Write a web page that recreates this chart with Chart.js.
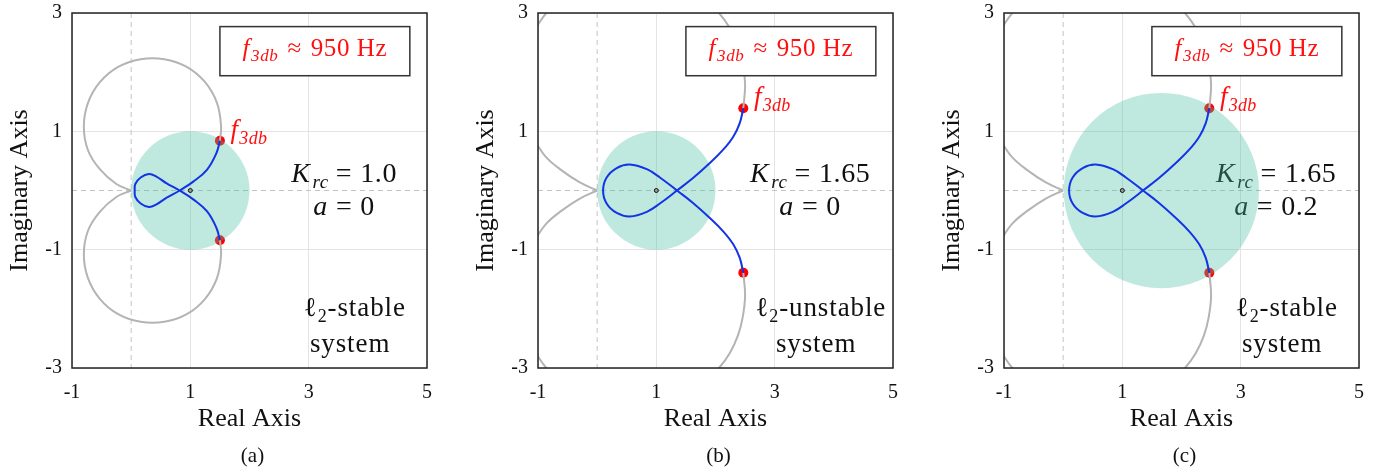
<!DOCTYPE html>
<html>
<head>
<meta charset="utf-8">
<script src="https://cdn.jsdelivr.net/npm/chart.js@4.4.1/dist/chart.umd.min.js"></script>
<style>
  html, body { margin: 0; padding: 0; background: #fff; overflow: hidden; }
  #wrap { position: relative; width: 1386px; height: 472px; }
  canvas { position: absolute; top: 0; }
</style>
</head>
<body>
<div id="wrap">
  <canvas id="chartA" width="460" height="472" style="left:0px"></canvas>
  <canvas id="chartB" width="460" height="472" style="left:466px"></canvas>
  <canvas id="chartC" width="460" height="472" style="left:932px"></canvas>
</div>
<script>
// axis ticks
const xTicks = [-1, 1, 3, 5];
const yTicks = [-3, -1, 1, 3];

// panel labels
const captions = ['(a)', '(b)', '(c)'];
const gainLabels = ['1.0', '1.65', '1.65'];
const aLabels = ['0', '0', '0.2'];
const stabilityLabels = ['stable', 'unstable', 'stable'];

// marker at (1, 0)
const centreMark = [[1, 0]];

// (a) K_rc = 1.0, a = 0
const blueA = [[1.50,0.84],[1.44,0.63],[1.28,0.35],[1.05,0.15],[0.82,0],[0.60,-0.12],[0.42,-0.24],[0.30,-0.28],
  [0.16,-0.22],[0.07,-0.11],[0.06,0],[0.07,0.11],[0.16,0.22],[0.30,0.28],[0.42,0.24],[0.60,0.12],[0.82,0],
  [1.05,-0.15],[1.28,-0.35],[1.44,-0.63],[1.50,-0.84]];
const grayAUpper = [[1.50,0.84],[1.52,1.08],[1.45,1.48],[1.25,1.83],[0.94,2.09],[0.56,2.22],[0.16,2.22],
  [-0.22,2.09],[-0.53,1.83],[-0.73,1.48],[-0.80,1.08],[-0.73,0.68],[-0.53,0.36],[-0.25,0.11],[0,0]];
const grayALower = [[1.50,-0.84],[1.52,-1.08],[1.45,-1.48],[1.25,-1.83],[0.94,-2.09],[0.56,-2.22],[0.16,-2.22],
  [-0.22,-2.09],[-0.53,-1.83],[-0.73,-1.48],[-0.80,-1.08],[-0.73,-0.68],[-0.53,-0.36],[-0.25,-0.11],[0,0]];
const redA = [[1.50,0.84],[1.50,-0.84]];
const discA = [1.0, 0, 1.0];   // centre x, centre y, radius

// (b) and (c) K_rc = 1.65 (same locus in both)
const blueBC = [[2.47,1.39],[2.41,1.14],[2.30,0.91],[2.13,0.69],[1.90,0.46],[1.62,0.21],[1.35,0],[1.06,-0.22],
  [0.84,-0.36],[0.55,-0.44],[0.33,-0.38],[0.16,-0.22],[0.10,0],[0.16,0.22],[0.33,0.38],[0.55,0.44],[0.84,0.36],
  [1.06,0.22],[1.35,0],[1.62,-0.21],[1.90,-0.46],[2.13,-0.69],[2.30,-0.91],[2.41,-1.14],[2.47,-1.39]];
const grayBCUpRight = [[2.47,1.39],[2.50,1.78],[2.46,2.14],[2.38,2.45],[2.24,2.75],[2.06,3.0],[1.82,3.25]];
const grayBCUpCorner = [[-0.62,3.24],[-0.86,3.0],[-1.05,2.73]];
const grayBCUpLeft = [[-1.05,0.83],[-0.86,0.56],[-0.60,0.34],[-0.30,0.14],[0,0]];
const grayBCLowRight = [[2.47,-1.39],[2.50,-1.78],[2.46,-2.14],[2.38,-2.45],[2.24,-2.75],[2.06,-3.0],[1.82,-3.25]];
const grayBCLowCorner = [[-0.62,-3.24],[-0.86,-3.0],[-1.05,-2.73]];
const grayBCLowLeft = [[-1.05,-0.83],[-0.86,-0.56],[-0.60,-0.34],[-0.30,-0.14],[0,0]];
const redBC = [[2.47,1.39],[2.47,-1.39]];
const discB = [1.0, 0, 1.0];
const discC = [1.66, 0, 1.65];

const SERIF = "'Liberation Serif', 'Times New Roman', serif";
const tickFont = { family: SERIF, size: 20 };
const titleFont = { family: SERIF, size: 26 };

const pts = arr => arr.map(p => ({ x: p[0], y: p[1] }));

// draw text parts [text, size, italic, dy, gapAfter] centred (or left aligned) at x, baseline y
function rich(ctx, parts, x, y, align, spacing) {
  ctx.letterSpacing = (spacing || 0) + 'px';
  let w = 0;
  parts.forEach(p => {
    ctx.font = (p[2] ? 'italic ' : '') + p[1] + 'px ' + SERIF;
    w += ctx.measureText(p[0]).width + (p[4] || 0);
  });
  let cx = align === 'left' ? x : x - w / 2;
  ctx.textAlign = 'left';
  ctx.textBaseline = 'alphabetic';
  parts.forEach(p => {
    ctx.font = (p[2] ? 'italic ' : '') + p[1] + 'px ' + SERIF;
    ctx.fillText(p[0], cx, y + (p[3] || 0));
    cx += ctx.measureText(p[0]).width + (p[4] || 0);
  });
  ctx.letterSpacing = '0px';
}

const annot = {
  id: 'annot',
  beforeDatasetsDraw(chart, args, o) {
    const { ctx, chartArea: a, scales: { x, y } } = chart;
    ctx.save();
    ctx.beginPath();
    ctx.rect(a.left, a.top, a.right - a.left, a.bottom - a.top);
    ctx.clip();
    ctx.strokeStyle = '#c4c4c4';
    ctx.lineWidth = 1;
    ctx.setLineDash([5, 4]);
    ctx.beginPath();
    ctx.moveTo(x.getPixelForValue(0), a.top);
    ctx.lineTo(x.getPixelForValue(0), a.bottom);
    ctx.moveTo(a.left, y.getPixelForValue(0));
    ctx.lineTo(a.right, y.getPixelForValue(0));
    ctx.stroke();
    ctx.setLineDash([]);
    ctx.fillStyle = '#111';
    rich(ctx, [['K', 28, true, 0, 2], ['rc', 19, true, 6, 7], ['=', 28, false, 0, 8], [o.gain, 28, false]],
      x.getPixelForValue(3.6), y.getPixelForValue(0.15), 'center', 0.6);
    rich(ctx, [['a', 28, true, 0, 8], ['=', 28, false, 0, 8], [o.a, 28, false]],
      x.getPixelForValue(3.6), y.getPixelForValue(-0.41), 'center', 0.6);
    ctx.restore();
  },
  afterDatasetsDraw(chart, args, o) {
    const { ctx, chartArea: a, scales: { x, y } } = chart;
    ctx.save();
    // frame
    ctx.strokeStyle = '#222';
    ctx.lineWidth = 1.5;
    ctx.strokeRect(a.left, a.top, a.right - a.left, a.bottom - a.top);
    // f3db box
    const bl = x.getPixelForValue(1.5), br = x.getPixelForValue(4.71);
    const bt = y.getPixelForValue(2.77), bb = y.getPixelForValue(1.94);
    ctx.fillStyle = '#fff';
    ctx.fillRect(bl, bt, br - bl, bb - bt);
    ctx.strokeStyle = '#333';
    ctx.strokeRect(bl, bt, br - bl, bb - bt);
    ctx.fillStyle = '#ff1010';
    rich(ctx, [['f', 25, true, 0, 1], ['3db', 17, true, 5, 9], ['\u2248', 25, false, 0, 9], ['950 Hz', 25, false]],
      (bl + br) / 2, y.getPixelForValue(2.27), 'center', 0.6);
    // f3db label next to the upper red point
    rich(ctx, [['f', 27, true, 0, 1], ['3db', 18, true, 6]],
      x.getPixelForValue(o.red[0][0] + 0.18), y.getPixelForValue(o.red[0][1] + 0.055), 'left', 0.3);
    // stability text
    ctx.fillStyle = '#111';
    rich(ctx, [['\u2113', 27, false], ['2', 18, false, 6], ['-' + o.stab, 27, false]],
      x.getPixelForValue(3.78), y.getPixelForValue(-2.12), 'center', 0.9);
    rich(ctx, [['system', 27, false]], x.getPixelForValue(3.70), y.getPixelForValue(-2.73), 'center', 0.9);
    // caption
    ctx.font = '21px ' + SERIF;
    ctx.textAlign = 'center';
    ctx.textBaseline = 'middle';
    ctx.fillText(o.caption, (a.left + a.right) / 2 + 3, 456);
    ctx.restore();
  }
};

function makePanel(id, i, blue, grays, red, disc) {
  const datasets = [
    { data: pts(centreMark), pointRadius: 2, pointBackgroundColor: '#999', pointBorderColor: '#111',
      pointBorderWidth: 1, order: 0 },
    { data: pts(blue), showLine: true, borderColor: '#1233e6', borderWidth: 2, pointRadius: 0,
      tension: 0.4, order: 1 }
  ];
  grays.forEach(g => datasets.push({
    data: pts(g), showLine: true, borderColor: '#b4b4b4', borderWidth: 2, pointRadius: 0,
    tension: 0.4, clip: 0, order: 2
  }));
  datasets.push({
    data: [{ x: disc[0], y: disc[1] }],
    pointRadius: c => {
      const s = c.chart.scales.x;
      return s.getPixelForValue(disc[0] + disc[2]) - s.getPixelForValue(disc[0]);
    },
    pointBackgroundColor: 'rgba(72,190,160,0.35)', pointBorderWidth: 0, order: 3
  });
  datasets.push({ data: pts(red), pointRadius: 5, pointBackgroundColor: '#ff0000',
    pointBorderWidth: 0, order: 4 });

  return new Chart(document.getElementById(id), {
    type: 'scatter',
    data: { datasets },
    plugins: [annot],
    options: {
      responsive: false,
      animation: false,
      devicePixelRatio: 1,
      events: [],
      layout: { padding: { left: 0, top: 13, right: 33, bottom: 0 } },
      plugins: {
        legend: { display: false },
        tooltip: { enabled: false },
        annot: { gain: gainLabels[i], a: aLabels[i], stab: stabilityLabels[i], caption: captions[i], red }
      },
      scales: {
        x: {
          type: 'linear', min: -1, max: 5,
          afterBuildTicks: s => { s.ticks = xTicks.map(v => ({ value: v })); },
          afterFit: s => { s.height = 104; s.paddingLeft = 0; s.paddingRight = 0; },
          grid: { color: '#e4e4e4', lineWidth: 1, drawTicks: false },
          border: { display: false },
          ticks: { padding: 13, color: '#111', font: tickFont, maxRotation: 0, autoSkip: false,
            callback: v => String(v) },
          title: { display: true, text: 'Real Axis', color: '#111', font: titleFont,
            padding: { top: 0, bottom: 37 } }
        },
        y: {
          type: 'linear', min: -3, max: 3,
          afterBuildTicks: s => { s.ticks = yTicks.map(v => ({ value: v })); },
          afterFit: s => { s.width = 72; s.paddingTop = 0; s.paddingBottom = 0; },
          grid: { color: '#e4e4e4', lineWidth: 1, drawTicks: false },
          border: { display: false },
          ticks: { padding: 10, color: '#111', font: tickFont, autoSkip: false,
            callback: v => String(v) },
          title: { display: true, text: 'Imaginary Axis', color: '#111', font: titleFont,
            padding: { top: 5, bottom: 0 } }
        }
      }
    }
  });
}

makePanel('chartA', 0, blueA, [grayAUpper, grayALower], redA, discA);
const grayBC = [grayBCUpRight, grayBCUpCorner, grayBCUpLeft, grayBCLowRight, grayBCLowCorner, grayBCLowLeft];
makePanel('chartB', 1, blueBC, grayBC, redBC, discB);
makePanel('chartC', 2, blueBC, grayBC, redBC, discC);
</script>
</body>
</html>
